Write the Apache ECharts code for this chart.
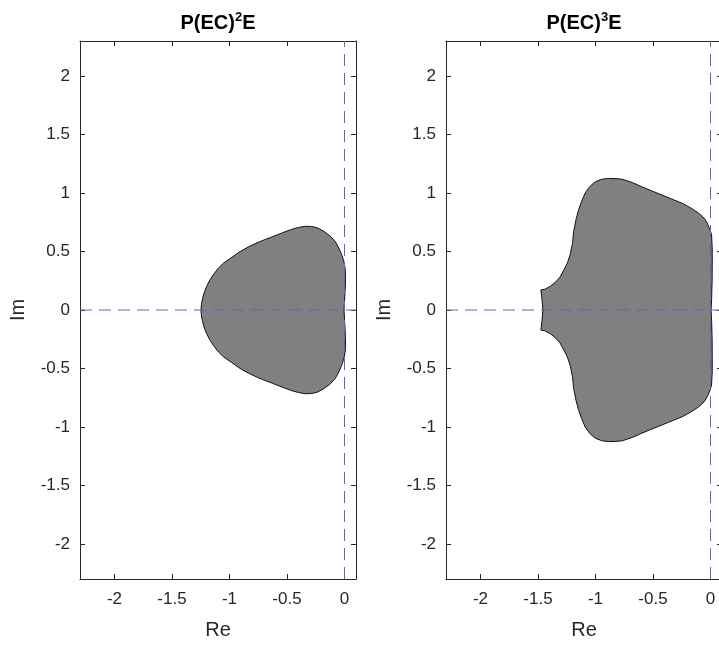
<!DOCTYPE html>
<html>
<head>
<meta charset="utf-8">
<script src="https://cdn.jsdelivr.net/npm/echarts@6/dist/echarts.min.js"></script>
<style>
  html, body { margin: 0; padding: 0; background: #fff; overflow: hidden; }
  /* right box edge sits just past the window, as in the original figure */
  #main { width: 730px; height: 648px; }
</style>
</head>
<body>
<div id="main"></div>
<script>
// axis ranges and tick labels
var xRange = [-2.3, 0.1];
var yRange = [-2.3, 2.3];
var xTicks = [-2, -1.5, -1, -0.5, 0];
var yTicks = [-2, -1.5, -1, -0.5, 0, 0.5, 1, 1.5, 2];
var titles = ['2', '3']; // exponent in P(EC)^kE

// P(EC)^2E boundary (closed loop)
var re2 = [-1.248, -1.244, -1.234, -1.218, -1.195, -1.169, -1.135, -1.095, -1.053, -0.98, -0.908, -0.835, -0.762, -0.69, -0.617, -0.545, -0.471, -0.40, -0.34, -0.285, -0.238, -0.18, -0.122, -0.08, -0.05, -0.025, -0.006, 0.005, 0.009, 0.008, 0.005, 0.0, -0.004,
           0.0, 0.005, 0.008, 0.009, 0.005, -0.006, -0.025, -0.05, -0.08, -0.122, -0.18, -0.238, -0.285, -0.34, -0.40, -0.471, -0.545, -0.617, -0.69, -0.762, -0.835, -0.908, -0.98, -1.053, -1.095, -1.135, -1.169, -1.195, -1.218, -1.234, -1.244];
var im2 = [0, 0.05, 0.10, 0.155, 0.21, 0.26, 0.31, 0.36, 0.40, 0.45, 0.50, 0.54, 0.574, 0.603, 0.63, 0.658, 0.686, 0.706, 0.716, 0.714, 0.703, 0.673, 0.63, 0.585, 0.53, 0.475, 0.418, 0.36, 0.305, 0.23, 0.16, 0.08, 0,
           -0.08, -0.16, -0.23, -0.305, -0.36, -0.418, -0.475, -0.53, -0.585, -0.63, -0.673, -0.703, -0.714, -0.716, -0.706, -0.686, -0.658, -0.63, -0.603, -0.574, -0.54, -0.50, -0.45, -0.40, -0.36, -0.31, -0.26, -0.21, -0.155, -0.10, -0.05];

// P(EC)^3E boundary
var re3 = [-1.457, -1.465, -1.475, -1.44, -1.39, -1.352, -1.31, -1.28, -1.245, -1.22, -1.20, -1.19, -1.17, -1.149, -1.12, -1.09, -1.05, -1.003, -0.945, -0.887, -0.83, -0.77, -0.68, -0.596, -0.51, -0.421, -0.335, -0.247, -0.17, -0.102, -0.055, -0.029, -0.005, 0.009, 0.015, 0.015, 0.014, 0.01, 0.005,
           0.01, 0.014, 0.015, 0.015, 0.009, -0.005, -0.029, -0.055, -0.102, -0.17, -0.247, -0.335, -0.421, -0.51, -0.596, -0.68, -0.77, -0.83, -0.887, -0.945, -1.003, -1.05, -1.09, -1.12, -1.149, -1.17, -1.19, -1.20, -1.22, -1.245, -1.28, -1.31, -1.352, -1.39, -1.44, -1.475, -1.465];
var im3 = [0, 0.09, 0.172, 0.178, 0.205, 0.235, 0.28, 0.333, 0.40, 0.475, 0.57, 0.672, 0.77, 0.85, 0.93, 1.0, 1.055, 1.096, 1.118, 1.125, 1.124, 1.119, 1.09, 1.053, 1.018, 0.983, 0.948, 0.913, 0.872, 0.828, 0.785, 0.743, 0.69, 0.644, 0.531, 0.39, 0.248, 0.1, 0,
           -0.1, -0.248, -0.39, -0.531, -0.644, -0.69, -0.743, -0.785, -0.828, -0.872, -0.913, -0.948, -0.983, -1.018, -1.053, -1.09, -1.119, -1.124, -1.125, -1.118, -1.096, -1.055, -1.0, -0.93, -0.85, -0.77, -0.672, -0.57, -0.475, -0.40, -0.333, -0.28, -0.235, -0.205, -0.178, -0.172, -0.09];

var shapes = [[re2, im2], [re3, im3]];

var axisColor = '#262626';
var font = 'Liberation Sans, Arial, sans-serif';
var gridLefts = [80, 446];

var chart = echarts.init(document.getElementById('main'));

var grids = [], xAxes = [], yAxes = [], series = [], graphics = [];

gridLefts.forEach(function (left, i) {
  grids.push({ left: left, top: 41, width: 276, height: 538 });

  var tickBase = { show: true, inside: true, length: 5, lineStyle: { color: axisColor } };
  // bottom + top x axes
  xAxes.push({
    type: 'value', gridIndex: i, min: xRange[0], max: xRange[1], position: 'bottom',
    axisLine: { show: true, onZero: false, lineStyle: { color: axisColor, width: 1 } },
    axisTick: Object.assign({ customValues: xTicks }, tickBase),
    axisLabel: { customValues: xTicks, color: axisColor, fontSize: 17, fontFamily: font, margin: 12 },
    splitLine: { show: false },
    name: 'Re', nameLocation: 'middle', nameGap: 41,
    nameTextStyle: { color: axisColor, fontSize: 20, fontFamily: font }
  });
  xAxes.push({
    type: 'value', gridIndex: i, min: xRange[0], max: xRange[1], position: 'top',
    axisLine: { show: true, onZero: false, lineStyle: { color: axisColor, width: 1 } },
    axisTick: Object.assign({ customValues: xTicks }, tickBase),
    axisLabel: { show: false }, splitLine: { show: false }
  });
  yAxes.push({
    type: 'value', gridIndex: i, min: yRange[0], max: yRange[1], position: 'left',
    axisLine: { show: true, onZero: false, lineStyle: { color: axisColor, width: 1 } },
    axisTick: Object.assign({ customValues: yTicks }, tickBase),
    axisLabel: { customValues: yTicks, color: axisColor, fontSize: 17, fontFamily: font, margin: 10 },
    splitLine: { show: false },
    name: 'Im', nameLocation: 'middle', nameGap: 52,
    nameTextStyle: { color: axisColor, fontSize: 20, fontFamily: font }
  });
  yAxes.push({
    type: 'value', gridIndex: i, min: yRange[0], max: yRange[1], position: 'right',
    axisLine: { show: true, onZero: false, lineStyle: { color: axisColor, width: 1 } },
    axisTick: Object.assign({ customValues: yTicks }, tickBase),
    axisLabel: { show: false }, splitLine: { show: false }
  });

  var re = shapes[i][0], im = shapes[i][1];
  var pts = re.map(function (x, k) { return [x, im[k]]; });

  series.push({
    type: 'custom', xAxisIndex: 2 * i, yAxisIndex: 2 * i, clip: true,
    data: [0], silent: true,
    renderItem: function (params, api) {
      return {
        type: 'polygon',
        shape: { points: pts.map(function (p) { return api.coord(p); }), smooth: 0 },
        style: { fill: '#808080', stroke: '#111', lineWidth: 1 }
      };
    }
  });

  var dash = { color: '#6262c6', width: 1, type: [12, 7] };
  series.push({
    type: 'line', xAxisIndex: 2 * i, yAxisIndex: 2 * i, symbol: 'none', silent: true, z: 5,
    data: [[xRange[0], 0], [xRange[1], 0]], lineStyle: dash
  });
  series.push({
    type: 'line', xAxisIndex: 2 * i, yAxisIndex: 2 * i, symbol: 'none', silent: true, z: 5,
    data: [[0, yRange[0]], [0, yRange[1]]], lineStyle: dash
  });

  graphics.push({
    type: 'text', x: left + 138, y: 23,
    style: {
      text: '{b|P(EC)}{s|' + titles[i] + '}{b|E}',
      align: 'center', verticalAlign: 'middle',
      rich: {
        b: { fontSize: 20, fontWeight: 'bold', fontFamily: font, fill: '#000', lineHeight: 24 },
        s: { fontSize: 13, fontWeight: 'bold', fontFamily: font, fill: '#000', lineHeight: 24, verticalAlign: 'top' }
      }
    }
  });
});

chart.setOption({
  animation: false,
  grid: grids,
  xAxis: xAxes,
  yAxis: yAxes,
  series: series,
  graphic: graphics
});
</script>
</body>
</html>
